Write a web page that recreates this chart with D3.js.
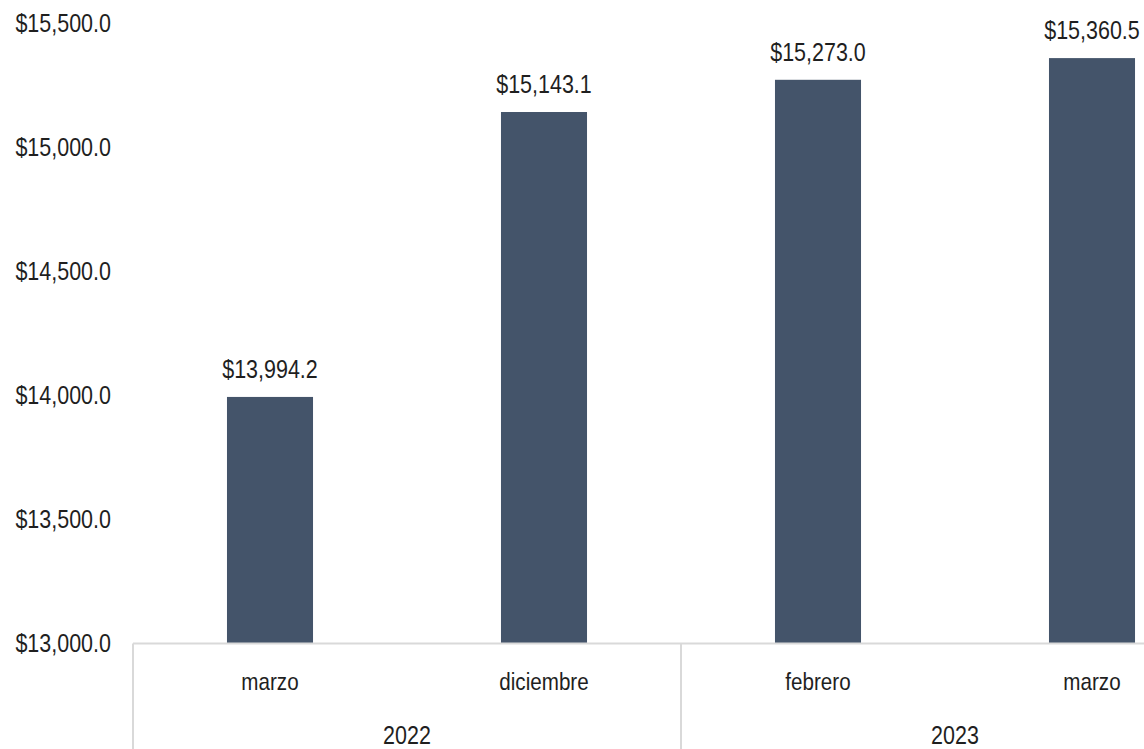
<!DOCTYPE html>
<html><head><meta charset="utf-8">
<script src="https://cdn.jsdelivr.net/npm/d3@7"></script>
<style>
html,body{margin:0;padding:0;background:#fff;overflow:hidden;}
text{font-family:"Liberation Sans Narrow","Liberation Sans",Arial,sans-serif;fill:#1f1f1f;}
</style></head>
<body><svg id="c" width="1144" height="749"></svg>
<script>
const months = ["marzo","diciembre","febrero","marzo"];
const years = ["2022","2022","2023","2023"];
const values = [13994.2, 15143.1, 15273.0, 15360.5];
const yTicks = [13000, 13500, 14000, 14500, 15000, 15500];

(function(){
const svg = d3.select("#c");
const left = 133, step = 274, plotTop = 23.5, bottom = 643.5;
const keys = values.map((d,i)=>i);
const x = d3.scaleBand().domain(keys).range([left, left + step*keys.length]).paddingInner(0.686).paddingOuter(0.343);
const y = d3.scaleLinear().domain([13000,15500]).range([bottom, plotTop]);
const fmt = v => "$" + d3.format(",.1f")(v);
const fs = 25, sx = 0.86;
const tr = (px,py) => `translate(${px},${py}) scale(${sx},1)`;

svg.append("g").selectAll("text").data(yTicks).join("text")
  .attr("transform", d=>tr(111, y(d))).attr("dy","0.35em")
  .attr("text-anchor","end").style("font-size",fs+"px").text(fmt);

svg.append("g").selectAll("rect").data(values).join("rect")
  .attr("x",(d,i)=>x(i)).attr("width",x.bandwidth())
  .attr("y",d=>y(d)).attr("height",d=>bottom - y(d)).attr("fill","#44546a");

svg.append("g").selectAll("text").data(values).join("text")
  .attr("transform",(d,i)=>tr(x(i)+x.bandwidth()/2, y(d)-19))
  .attr("text-anchor","middle").style("font-size",fs+"px").text(fmt);

const ax = svg.append("g").attr("stroke","#d9d9d9").attr("stroke-width",2);
ax.append("line").attr("x1",left).attr("x2",left+step*keys.length).attr("y1",bottom).attr("y2",bottom);

svg.append("g").selectAll("text").data(months).join("text")
  .attr("transform",(d,i)=>tr(x(i)+x.bandwidth()/2, 682)).attr("dy","0.35em")
  .attr("text-anchor","middle").style("font-size",(fs-1)+"px").text(d=>d);

const groups = d3.groups(keys, i=>years[i]);
groups.forEach(([yr, idx])=>{
  const x0 = x(idx[0]) - x.step()*x.paddingOuter();
  const x1 = x0 + x.step()*idx.length;
  ax.append("line").attr("x1",x0).attr("x2",x0).attr("y1",bottom).attr("y2",749);
  ax.append("line").attr("x1",x1).attr("x2",x1).attr("y1",bottom).attr("y2",749);
  svg.append("text").attr("transform",tr((x0+x1)/2, 735)).attr("dy","0.35em")
    .attr("text-anchor","middle").style("font-size",fs+"px").text(yr);
});
})();
</script></body></html>
